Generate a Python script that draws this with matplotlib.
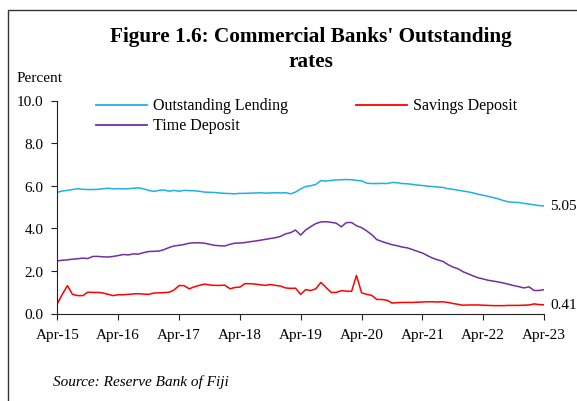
import matplotlib
matplotlib.use("Agg")
import matplotlib.pyplot as plt
import matplotlib.dates as mdates
from matplotlib.lines import Line2D
from matplotlib.patches import Rectangle
import pandas as pd

plt.rcParams['font.family'] = ['Liberation Serif', 'DejaVu Serif']

# monthly outstanding rates, Apr-2015 .. Apr-2023 (percent)
months = pd.date_range('2015-04-01', periods=97, freq='MS')

lending = [5.69, 5.75, 5.78, 5.82, 5.86, 5.83, 5.82, 5.82, 5.83, 5.86,
           5.88, 5.85, 5.86, 5.85, 5.86, 5.88, 5.90, 5.85, 5.78, 5.73,
           5.78, 5.80, 5.74, 5.78, 5.74, 5.78, 5.77, 5.76, 5.74, 5.70,
           5.69, 5.68, 5.66, 5.64, 5.63, 5.62, 5.64, 5.64, 5.65, 5.66,
           5.67, 5.65, 5.66, 5.67, 5.66, 5.67, 5.62, 5.70, 5.85, 5.96,
           6.00, 6.06, 6.24, 6.22, 6.25, 6.27, 6.28, 6.29, 6.28, 6.25,
           6.23, 6.12, 6.10, 6.10, 6.11, 6.10, 6.15, 6.14, 6.10, 6.09,
           6.06, 6.03, 6.01, 5.98, 5.96, 5.94, 5.92, 5.86, 5.83, 5.79,
           5.75, 5.71, 5.66, 5.60, 5.55, 5.50, 5.44, 5.38, 5.30, 5.24,
           5.22, 5.21, 5.17, 5.14, 5.10, 5.07, 5.05]

time_dep = [2.47, 2.50, 2.52, 2.55, 2.57, 2.60, 2.58, 2.68, 2.68, 2.66,
            2.65, 2.68, 2.72, 2.77, 2.75, 2.80, 2.79, 2.86, 2.91, 2.92,
            2.93, 3.00, 3.10, 3.17, 3.20, 3.24, 3.30, 3.32, 3.32, 3.30,
            3.25, 3.20, 3.18, 3.17, 3.25, 3.30, 3.31, 3.33, 3.37, 3.40,
            3.44, 3.48, 3.52, 3.56, 3.62, 3.74, 3.80, 3.92, 3.68, 3.92,
            4.08, 4.22, 4.30, 4.31, 4.28, 4.24, 4.07, 4.27, 4.27, 4.12,
            4.03, 3.88, 3.70, 3.47, 3.38, 3.30, 3.23, 3.18, 3.12, 3.08,
            3.00, 2.92, 2.84, 2.72, 2.60, 2.52, 2.45, 2.30, 2.18, 2.10,
            1.96, 1.86, 1.76, 1.68, 1.62, 1.56, 1.52, 1.48, 1.43, 1.37,
            1.31, 1.26, 1.20, 1.25, 1.08, 1.08, 1.12]

savings = [0.46, 0.90, 1.31, 0.90, 0.84, 0.84, 1.00, 0.99, 0.99, 0.96,
           0.90, 0.84, 0.88, 0.88, 0.90, 0.92, 0.93, 0.91, 0.90, 0.96,
           0.97, 0.98, 1.00, 1.10, 1.31, 1.31, 1.16, 1.25, 1.32, 1.38,
           1.34, 1.32, 1.32, 1.33, 1.16, 1.22, 1.24, 1.40, 1.40, 1.38,
           1.35, 1.32, 1.36, 1.32, 1.29, 1.20, 1.18, 1.19, 0.90, 1.12,
           1.08, 1.16, 1.46, 1.22, 0.99, 0.99, 1.07, 1.05, 1.04, 1.79,
           0.97, 0.90, 0.85, 0.66, 0.66, 0.62, 0.49, 0.51, 0.52, 0.52,
           0.52, 0.53, 0.54, 0.55, 0.55, 0.54, 0.55, 0.52, 0.47, 0.43,
           0.39, 0.40, 0.40, 0.40, 0.39, 0.38, 0.37, 0.37, 0.37, 0.38,
           0.38, 0.38, 0.39, 0.40, 0.45, 0.42, 0.41]

W, H = 577, 402
fig = plt.figure(figsize=(W / 100, H / 100), dpi=100)
ax = fig.add_axes([57.3 / W, 1 - 314.5 / H, 486.7 / W, 213 / H])

c_lend, c_time, c_sav = '#1EB1E6', '#7030A0', '#FF0000'
ax.plot(months, lending, color=c_lend, lw=1.1)
ax.plot(months, time_dep, color=c_time, lw=1.1)
ax.plot(months, savings, color=c_sav, lw=1.1)

ax.set_xlim(months[0], months[-1])
ax.set_ylim(0, 10)
ax.set_yticks([0, 2, 4, 6, 8, 10])
ax.yaxis.set_major_formatter(plt.FuncFormatter(lambda v, p: f'{v:.1f}'))
ax.xaxis.set_major_locator(mdates.MonthLocator(bymonth=4))
ax.xaxis.set_major_formatter(mdates.DateFormatter('%b-%y'))

for s in ['top', 'right']:
    ax.spines[s].set_visible(False)
for s in ['left', 'bottom']:
    ax.spines[s].set_color('#222222')
    ax.spines[s].set_linewidth(0.8)
ax.tick_params(axis='y', direction='out', length=4, width=0.8, pad=6, labelsize=11, color='#222222')
ax.tick_params(axis='x', direction='out', length=4, width=0.8, pad=6.5, labelsize=11, color='#222222')

# end-of-period values
ax.annotate(f'{lending[-1]:.2f}', xy=(months[-1], lending[-1]), xytext=(4.5, 0),
            textcoords='offset points', va='center', ha='left', fontsize=11, annotation_clip=False)
ax.annotate(f'{savings[-1]:.2f}', xy=(months[-1], savings[-1]), xytext=(4.5, 0),
            textcoords='offset points', va='center', ha='left', fontsize=11, annotation_clip=False)

# legend, laid out by hand
def fx(px):
    return px / W

def fy(py):
    return 1 - py / H

for x0, x1, y, col, lab in [(96, 147, 106, c_lend, 'Outstanding Lending'),
                            (356, 407, 106, c_sav, 'Savings Deposit'),
                            (96, 147, 126, c_time, 'Time Deposit')]:
    fig.add_artist(Line2D([fx(x0), fx(x1)], [fy(y), fy(y)], color=col, lw=1.3))
    fig.text(fx(x1 + 6), fy(y), lab, ha='left', va='center', fontsize=11.5)

fig.text(fx(311), fy(49.5), "Figure 1.6: Commercial Banks' Outstanding\nrates",
         ha='center', va='center', fontsize=15.3, fontweight='bold', linespacing=1.3)
fig.text(fx(17), fy(78), 'Percent', ha='left', va='center', fontsize=11)
fig.text(fx(53), fy(382), 'Source: Reserve Bank of Fiji', ha='left', va='center',
         fontsize=11, style='italic')

# outer frame
fig.add_artist(Rectangle((fx(8.3), -0.1), 1.2, fy(10.7) + 0.1, transform=fig.transFigure,
                         fill=False, edgecolor='#333333', lw=1.0))

fig.savefig('out.png', dpi=100)
